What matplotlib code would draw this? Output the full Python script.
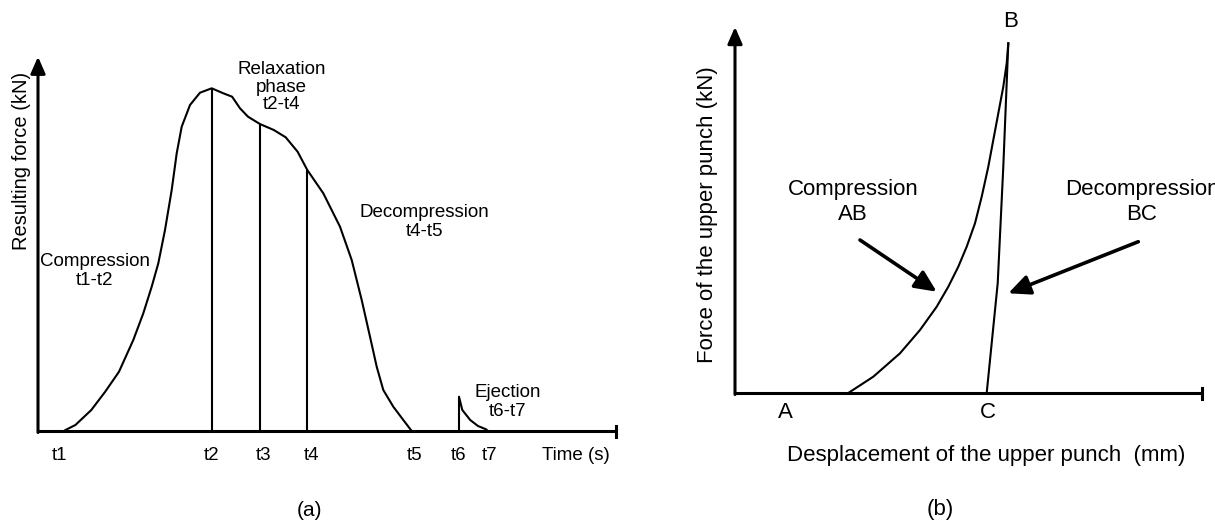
import matplotlib
matplotlib.use("Agg")
import matplotlib.pyplot as plt

plt.rcParams['font.family'] = ['Liberation Sans', 'DejaVu Sans']

# ---- panel (a): force vs time (schematic units) ----
time_curve = [26, 27.5, 37.4, 53.3, 67.2, 81, 95.3, 105.3, 113.7, 120.3, 127,
              133.7, 138.7, 143.7, 152, 162, 173.7, 185.3, 194.1, 202, 210,
              221.9, 235.8, 247.7, 259.6, 269.3, 285.3, 302, 313.7, 323.7, 332,
              338.7, 345.3, 355.3, 365.3, 373.7]
force_curve = [0, 1, 6, 21, 39.3, 59.3, 91, 117.7, 144.3, 167.7, 201,
               241, 277.7, 304.3, 326, 338.3, 342.7, 337.7, 334.3, 322.7, 314.3,
               307, 301, 293.7, 279.3, 261, 237.7, 204.3, 171, 131, 94.3,
               64.3, 41, 24.3, 11, 0]
phase_times = [173.7, 221.9, 269.3]        # t2, t3, t4
phase_forces = [342.7, 307, 261]
eject_time = [421, 421, 424.3, 432.2, 440, 448, 450]
eject_force = [0, 34.3, 21, 11, 5, 1.7, 0]

tick_names = ['t1', 't2', 't3', 't4', 't5', 't6', 't7']
tick_pos = [22, 174, 226, 273.5, 377, 421, 452]

# ---- panel (b): force vs displacement ----
ab_disp = [113.3, 138.3, 165, 185, 201.7, 213.3, 223.3, 231.7, 240, 246.7,
           253.3, 258.3, 263.3, 268.3, 271.7, 273.3]
ab_force = [0, 16.3, 39.7, 63, 86.3, 106.3, 126.3, 146.3, 169.7, 196.3,
            226.3, 253, 279.7, 306.3, 329.7, 349.7]
bc_disp = [273.3, 268.3, 262.7, 251.7]
bc_force = [349.7, 226.3, 109.7, 0]

W, H = 1215, 523
fig = plt.figure(figsize=(W / 100, H / 100), dpi=100)

AX_LW = 2.2
CURVE_LW = 1.5


def frame(ax, xend, ytop):
    ax.plot([0, xend], [0, 0], color='k', lw=AX_LW, solid_capstyle='butt')
    ax.plot([xend, xend], [-5.5, 5.5], color='k', lw=AX_LW)
    ax.annotate('', xy=(0, ytop), xytext=(0, -1.5),
                arrowprops=dict(arrowstyle='-|>,head_length=0.5,head_width=0.22',
                                lw=AX_LW, color='k', mutation_scale=20,
                                shrinkA=0, shrinkB=0))


# panel (a)
ox, oy = 38, 431
ax = fig.add_axes([0, 0, 620 / W, 1])
ax.set_xlim(-ox, 620 - ox)
ax.set_ylim(oy - H, oy)
ax.axis('off')
frame(ax, 578, 374.3)
ax.plot(time_curve, force_curve, color='k', lw=CURVE_LW)
ax.vlines(phase_times, 0, phase_forces, color='k', lw=CURVE_LW)
ax.plot(eject_time, eject_force, color='k', lw=CURVE_LW)

fs_a = 13.5
for name, x in zip(tick_names, tick_pos):
    ax.text(x, -24, name, ha='center', va='center', fontsize=fs_a)
ax.text(538, -24, 'Time (s)', ha='center', va='center', fontsize=fs_a)
ax.text(57, 160, 'Compression\nt1-t2', ha='center', va='center', fontsize=fs_a, linespacing=1.1)
ax.text(243.7, 344, 'Relaxation\nphase\nt2-t4', ha='center', va='center', fontsize=fs_a, linespacing=1.05)
ax.text(386.6, 209, 'Decompression\nt4-t5', ha='center', va='center', fontsize=fs_a, linespacing=1.1)
ax.text(470, 29, 'Ejection\nt6-t7', ha='center', va='center', fontsize=fs_a, linespacing=1.1)
ax.text(-16.3, 270, 'Resulting force (kN)', ha='center', va='center', rotation=90, fontsize=14.5)
ax.text(271.5, -79, '(a)', ha='center', va='center', fontsize=15)

# panel (b)
ox, oy = 735, 393
bx = fig.add_axes([620 / W, 0, 1 - 620 / W, 1])
bx.set_xlim(620 - ox, W - ox)
bx.set_ylim(oy - H, oy)
bx.axis('off')
frame(bx, 467, 366)
bx.plot(ab_disp, ab_force, color='k', lw=CURVE_LW)
bx.plot(bc_disp, bc_force, color='k', lw=CURVE_LW)

arrow_kw = dict(arrowstyle='-|>,head_length=0.65,head_width=0.3', lw=2.6,
                color='k', mutation_scale=20, shrinkA=0, shrinkB=0)
bx.annotate('', xy=(201.7, 101.3), xytext=(125, 153), arrowprops=arrow_kw)
bx.annotate('', xy=(273.3, 99.7), xytext=(403.3, 151.3), arrowprops=arrow_kw)

fs_b = 16
bx.text(275.7, 371.3, 'B', ha='center', va='center', fontsize=fs_b)
bx.text(50, -20, 'A', ha='center', va='center', fontsize=fs_b)
bx.text(253, -20, 'C', ha='center', va='center', fontsize=fs_b)
bx.text(118.3, 190.5, 'Compression\nAB', ha='center', va='center', fontsize=fs_b, linespacing=1.25)
bx.text(407, 190.5, 'Decompression\nBC', ha='center', va='center', fontsize=fs_b, linespacing=1.25)
bx.text(251, -62, 'Desplacement of the upper punch  (mm)', ha='center', va='center', fontsize=fs_b)
bx.text(-27, 178, 'Force of the upper punch (kN)', ha='center', va='center', rotation=90, fontsize=fs_b)
bx.text(205, -117, '(b)', ha='center', va='center', fontsize=fs_b)

fig.savefig('out.png', dpi=100)
